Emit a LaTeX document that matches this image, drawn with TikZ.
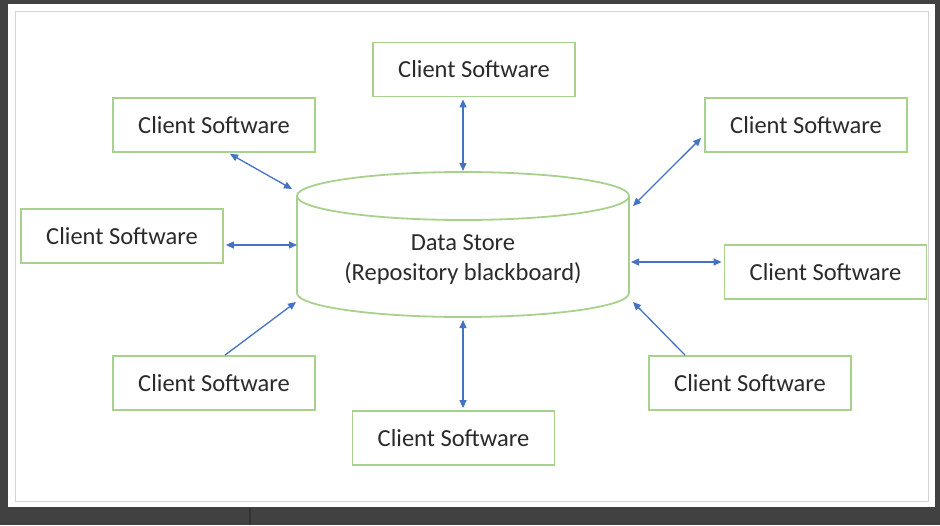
\documentclass[tikz,border=0pt]{standalone}
\usepackage{fontspec}
\setmainfont{Carlito}
\usetikzlibrary{arrows.meta,calc}
\definecolor{bgdark}{HTML}{414141}
\definecolor{frame}{HTML}{D4D4D4}
\definecolor{boxgreen}{HTML}{A9D18E}
\definecolor{arrblue}{HTML}{4472C4}
\definecolor{txt}{HTML}{2A2A2A}
\tikzset{
  clientbox/.style={draw=boxgreen, line width=1.8pt, fill=white, minimum width=202pt, minimum height=54pt, inner sep=0pt, font=\fontsize{24.5}{30}\selectfont, text=txt},
  arr/.style={draw=arrblue, line width=1.3pt, {Triangle[length=8pt,width=7pt]}-{Triangle[length=8pt,width=7pt]}},
  arrone/.style={draw=arrblue, line width=1.3pt, -{Triangle[length=8pt,width=7pt]}},
  cyl/.style={draw=boxgreen, line width=1.8pt}
}
\begin{document}
\begin{tikzpicture}[x=1pt,y=-1pt]
\useasboundingbox (0,0) rectangle (940,525);
\fill[bgdark] (0,0) rectangle (940,525);
\fill[white] (8,4) rectangle (935,507);
\draw[frame, line width=1pt] (15,11) rectangle (928,501);
\draw[black!80, line width=1.5pt] (250,508) -- (250,525);

% cylinder
\def\cx{463}\def\rx{166}\def\ry{24}
\draw[cyl] (297,196) -- (297,293) arc[start angle=180, end angle=360, x radius=\rx, y radius=-\ry] -- (629,196);
\draw[cyl] (\cx,196) ellipse[x radius=\rx, y radius=\ry];
\node[font=\fontsize{24.5}{30}\selectfont, text=txt, align=center] (ds) at (463,259.5) {Data Store\\(Repository blackboard)};

\coordinate (c-top) at (463,171);
\coordinate (c-bot) at (463,320);
\coordinate (c-left) at (297,245);
\coordinate (c-right) at (631,262);
\coordinate (c-tl) at (292,189);
\coordinate (c-tr) at (633,206);
\coordinate (c-bl) at (296,302);
\coordinate (c-br) at (633,302);

% boxes
\node[clientbox] (t)  at (474,69.5)  {Client Software};
\node[clientbox] (tl) at (214,125) {Client Software};
\node[clientbox] (tr) at (806,125) {Client Software};
\node[clientbox] (l)  at (122,236) {Client Software};
\node[clientbox] (r)  at (825.5,272) {Client Software};
\node[clientbox] (bl) at (214,383) {Client Software};
\node[clientbox] (b)  at (453.5,438) {Client Software};
\node[clientbox] (br) at (750,383) {Client Software};

% connectors
\draw[arr] ([xshift=-11pt,yshift=-2pt]t.south) -- (c-top);
\draw[arr] ([xshift=9.5pt,yshift=2pt]b.north) -- (c-bot);
\draw[arr] ([xshift=2pt,yshift=-9pt]l.east) -- (c-left);
\draw[arr] ([xshift=-2pt,yshift=10pt]r.west) -- (c-right);
\draw[arr] ([xshift=16pt,yshift=-1pt]tl.south) -- (c-tl);
\draw[arr] ([xshift=-3pt,yshift=-13pt]tr.west) -- (c-tr);
\draw[arrone] ([xshift=11pt]bl.north) -- (c-bl);
\draw[arrone] ([xshift=-65pt]br.north) -- (c-br);
\end{tikzpicture}
\end{document}
